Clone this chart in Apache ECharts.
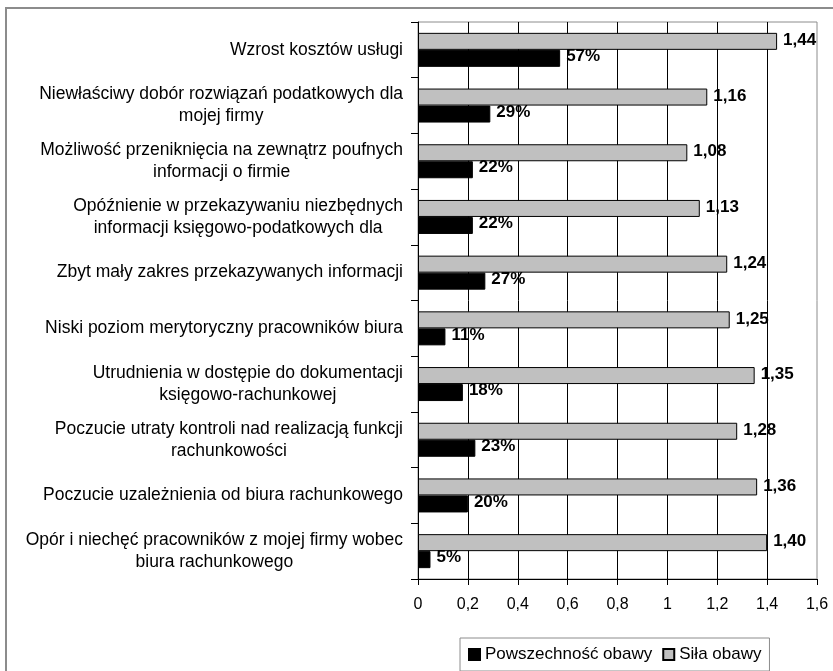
<!DOCTYPE html>
<html>
<head>
<meta charset="utf-8">
<script src="https://cdn.jsdelivr.net/npm/echarts@6/dist/echarts.min.js"></script>
<style>
  html, body { margin: 0; padding: 0; background: #fff; }
  #chart { width: 833px; height: 671px; }
</style>
</head>
<body>
<div id="chart"></div>
<script>
// kategorie od góry do dołu
var categories = [
  'Wzrost kosztów usługi',
  'Niewłaściwy dobór rozwiązań podatkowych dla\nmojej firmy',
  'Możliwość przeniknięcia na zewnątrz poufnych\ninformacji o firmie',
  'Opóźnienie w przekazywaniu niezbędnych\ninformacji księgowo-podatkowych dla',
  'Zbyt mały zakres przekazywanych informacji',
  'Niski poziom merytoryczny pracowników biura',
  'Utrudnienia w dostępie do dokumentacji\nksięgowo-rachunkowej',
  'Poczucie utraty kontroli nad realizacją funkcji\nrachunkowości',
  'Poczucie uzależnienia od biura rachunkowego',
  'Opór i niechęć pracowników z mojej firmy wobec\nbiura rachunkowego'
]
var powszechnosc = [0.57, 0.29, 0.22, 0.22, 0.27, 0.11, 0.18, 0.23, 0.20, 0.05]
var sila = [1.44, 1.16, 1.08, 1.13, 1.24, 1.25, 1.35, 1.28, 1.36, 1.40]
var xTicks = [0, 0.2, 0.4, 0.6, 0.8, 1, 1.2, 1.4, 1.6]

var font = 'Liberation Sans, Arial, sans-serif'
var comma = function (v, d) {
  return (d == null ? String(v) : v.toFixed(d)).replace('.', ',')
}

var myChart = echarts.init(document.getElementById('chart'))

var option = {
  animation: false,
  textStyle: { fontFamily: font, color: '#000' },
  graphic: [{
    type: 'rect',
    shape: { x: 6, y: 8, width: 900, height: 900 },
    style: { fill: 'none', stroke: '#8c8c8c', lineWidth: 2 },
    silent: true
  }],
  grid: {
    left: 418, top: 22, right: 16, bottom: 92,
    show: true, borderColor: '#8c8c8c', borderWidth: 1
  },
  legend: {
    left: 460, top: 638,
    padding: [8, 8],
    borderColor: '#8c8c8c', borderWidth: 1,
    itemWidth: 11, itemHeight: 11, itemGap: 10,
    icon: 'rect',
    textStyle: { fontSize: 17, fontFamily: font, color: '#000' },
    data: ['Powszechność obawy', 'Siła obawy']
  },
  xAxis: {
    type: 'value',
    min: 0, max: 1.6, interval: 0.2,
    axisLine: { show: true, lineStyle: { color: '#000' } },
    axisTick: { show: true, length: 6, lineStyle: { color: '#000' } },
    axisLabel: {
      fontSize: 16, color: '#000', margin: 18,
      formatter: function (v) {
        var t = xTicks.find(function (x) { return Math.abs(x - v) < 1e-6 })
        return comma(t != null ? t : v)
      }
    },
    splitLine: { show: true, showMaxLine: false, lineStyle: { color: '#000', width: 1 } }
  },
  yAxis: {
    type: 'category',
    data: categories.slice().reverse(),
    axisLine: { show: true, lineStyle: { color: '#000' } },
    axisTick: { show: true, length: 7, lineStyle: { color: '#000' } },
    axisLabel: {
      fontSize: 17.5, color: '#000', margin: 15, align: 'right', lineHeight: 22,
      formatter: function (v) {
        return v.split('\n').map(function (l) { return '{c|' + l + '}' }).join('\n')
      },
      rich: { c: { align: 'center', fontSize: 17.5, lineHeight: 22, fontFamily: font, color: '#000' } }
    }
  },
  // Siła najpierw, żeby szary słupek był nad czarnym
  series: [{
    name: 'Siła obawy',
    type: 'bar',
    data: sila.slice().reverse(),
    barWidth: 17,
    barGap: '0%',
    itemStyle: { color: '#c0c0c0', borderColor: '#000', borderWidth: 1 },
    label: {
      show: true, position: 'right', distance: 6, offset: [0, -1],
      fontSize: 17, fontWeight: 'bold', color: '#000', fontFamily: font,
      formatter: function (p) { return comma(p.value, 2) }
    }
  }, {
    name: 'Powszechność obawy',
    type: 'bar',
    data: powszechnosc.slice().reverse(),
    barWidth: 17,
    barGap: '0%',
    itemStyle: { color: '#000', borderColor: '#000', borderWidth: 1 },
    label: {
      show: true, position: 'right', distance: 6, offset: [0, -2],
      fontSize: 17, fontWeight: 'bold', color: '#000', fontFamily: font,
      formatter: function (p) { return Math.round(p.value * 100) + '%' }
    }
  }]
}

myChart.setOption(option)
</script>
</body>
</html>
